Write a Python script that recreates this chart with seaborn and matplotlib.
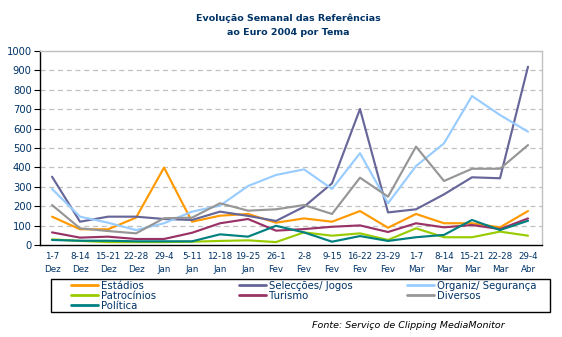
import matplotlib
matplotlib.use("Agg")
import matplotlib.pyplot as plt
import seaborn as sns
import pandas as pd
from matplotlib.lines import Line2D
from matplotlib.patches import Rectangle

weeks = ["1-7\nDez", "8-14\nDez", "15-21\nDez", "22-28\nDez", "29-4\nJan", "5-11\nJan",
         "12-18\nJan", "19-25\nJan", "26-1\nFev", "2-8\nFev", "9-15\nFev", "16-22\nFev",
         "23-29\nFev", "1-7\nMar", "8-14\nMar", "15-21\nMar", "22-28\nMar", "29-4\nAbr"]

estadios = [146, 81, 81, 141, 399, 120, 151, 160, 115, 137, 120, 175, 89, 160, 112, 112, 91, 175]
seleccoes = [352, 120, 146, 146, 134, 129, 172, 150, 124, 197, 318, 701, 168, 184, 261, 349, 344, 919]
organiz = [289, 146, 115, 77, 112, 172, 203, 304, 361, 390, 289, 473, 215, 407, 524, 768, 670, 584]
patrocinios = [29, 21, 15, 15, 15, 17, 21, 24, 15, 65, 48, 60, 26, 86, 40, 40, 69, 48]
turismo = [65, 38, 43, 31, 31, 63, 112, 134, 74, 82, 94, 101, 67, 112, 91, 103, 82, 137]
diversos = [206, 86, 72, 60, 138, 141, 215, 177, 184, 206, 160, 347, 249, 507, 330, 393, 393, 515]
politica = [26, 22, 22, 19, 19, 19, 55, 43, 99, 65, 17, 46, 21, 40, 52, 129, 77, 125]

series_names = ["Estádios", "Selecções/ Jogos", "Organiz/ Segurança", "Patrocínios",
                "Turismo", "Diversos", "Política"]
series_values = [estadios, seleccoes, organiz, patrocinios, turismo, diversos, politica]
colors = ["#FF9900", "#666699", "#99CCFF", "#99CC00", "#993366", "#969696", "#008080"]

rows = []
for name, vals in zip(series_names, series_values):
    for i, v in enumerate(vals):
        rows.append({"pos": i, "valor": v, "tema": name})
df = pd.DataFrame(rows)

sns.set_style("white")
plt.rcParams["font.family"] = ["DejaVu Sans"]
navy = "#003366"
W, H = 562, 337

fig = plt.figure(figsize=(5.62, 3.37), dpi=100)
ax = fig.add_axes([40 / W, 1 - 245 / H, 502 / W, 194 / H])

for y in range(100, 1000, 100):
    ax.axhline(y, color="#C0C0C0", lw=0.9, ls=(0, (4, 3)), zorder=0)

sns.lineplot(data=df, x="pos", y="valor", hue="tema", hue_order=series_names,
             palette=colors, linewidth=1.55, sort=False, legend=False, ax=ax)

ax.set_xlim(-0.43, len(weeks) - 0.57)
ax.set_ylim(0, 1000)
ax.set_xlabel("")
ax.set_ylabel("")
ax.set_yticks(range(0, 1001, 100))
ax.set_yticklabels([str(v) for v in range(0, 1001, 100)], color=navy, fontsize=7.2)
ax.set_xticks(range(len(weeks)))
ax.set_xticklabels(weeks, color=navy, fontsize=6.3, linespacing=1.55)
ax.set_xticks([i - 0.5 for i in range(1, len(weeks) + 1)], minor=True)
ax.tick_params(axis="x", which="major", length=0, pad=5)
ax.tick_params(axis="x", which="minor", length=4, width=0.8, color="black", direction="out")
ax.tick_params(axis="y", length=4, width=0.8, color="black", direction="out", pad=2, left=True)

for s in ["left", "bottom"]:
    ax.spines[s].set_color("black")
    ax.spines[s].set_linewidth(1.0)
for s in ["top", "right"]:
    ax.spines[s].set_color("#C0C0C0")
    ax.spines[s].set_linewidth(1.0)
    ax.spines[s].set_visible(True)

fig.text(0.513, 0.925, "Evolução Semanal das Referências\nao Euro 2004 por Tema",
         ha="center", va="center", fontsize=6.8, fontweight="bold", color=navy,
         linespacing=1.75)

# legend: frame + three columns
fig.patches.append(Rectangle((51 / W, 1 - 312 / H), 499 / W, 33 / H,
                             transform=fig.transFigure, facecolor="white",
                             edgecolor="black", linewidth=1.0, zorder=1))
columns = [([0, 3, 6], 71), ([1, 4], 239), ([2, 5], 407)]
for idxs, x0 in columns:
    handles = [Line2D([0], [0], color=colors[k], lw=2) for k in idxs]
    labels = [series_names[k] for k in idxs]
    leg = fig.legend(handles, labels, ncol=1, loc="upper left",
                     bbox_to_anchor=(x0 / W, 1 - 281 / H), frameon=False,
                     fontsize=7.3, handlelength=2.7, handletextpad=0.25,
                     borderpad=0, labelspacing=-0.02, borderaxespad=0)
    leg.set_zorder(2)
    for t in leg.get_texts():
        t.set_color(navy)

fig.text(312 / W, 1 - 325 / H, "Fonte: Serviço de Clipping MediaMonitor", fontsize=6.8,
         style="italic", color="black", ha="left", va="center")

fig.savefig("out.png", dpi=100, facecolor="white")
